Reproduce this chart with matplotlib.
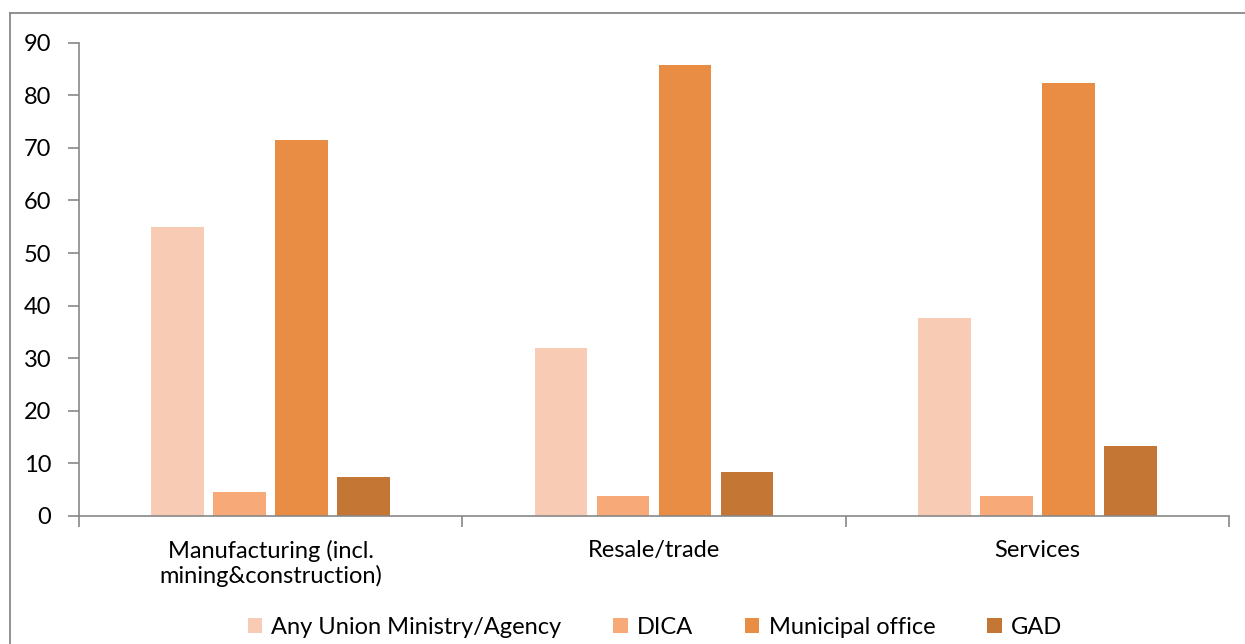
import matplotlib
matplotlib.use("Agg")
import matplotlib.pyplot as plt
import numpy as np
from matplotlib.lines import Line2D
from matplotlib.patches import Patch

categories = ["Manufacturing (incl.\nmining&construction)", "Resale/trade", "Services"]
series_names = ["Any Union Ministry/Agency", "DICA", "Municipal office", "GAD"]
union = [55.0, 31.9, 37.6]
dica = [4.6, 3.8, 3.8]
municipal = [71.5, 85.7, 82.3]
gad = [7.4, 8.3, 13.3]
colors = ["#F8CBB4", "#F7AA78", "#E88D43", "#C47635"]
yticks = [0, 10, 20, 30, 40, 50, 60, 70, 80, 90]

plt.rcParams['font.family'] = ['Lato', 'DejaVu Sans']
FS = 17

W, H = 1245, 644
fig = plt.figure(figsize=(W / 100, H / 100), dpi=100)
ax = fig.add_axes([79 / W, 1 - 516 / H, (1229 - 79) / W, (516 - 42.7) / H])

x = np.arange(len(categories))
step = 0.1618
width = 0.138
data = [union, dica, municipal, gad]
for i, (vals, c) in enumerate(zip(data, colors)):
    ax.bar(x + (i - 1.5) * step, vals, width=width, color=c, label=series_names[i])

ax.set_xlim(-0.5, len(categories) - 0.5)
ax.set_ylim(0, 90)
ax.set_yticks(yticks)
ax.set_yticklabels([str(v) for v in yticks], fontsize=FS)
ax.set_xticks(x)
ax.set_xticklabels(categories, fontsize=FS, linespacing=1.15)
ax.set_xticks(np.arange(len(categories) + 1) - 0.5, minor=True)
ax.tick_params(axis='x', which='major', length=0, pad=17)
ax.tick_params(axis='x', which='minor', length=8, width=1.2, color='#888888', direction='out')
ax.tick_params(axis='y', length=8, width=1.2, color='#888888', direction='out', pad=12)
for s in ['top', 'right']:
    ax.spines[s].set_visible(False)
for s in ['left', 'bottom']:
    ax.spines[s].set_color('#888888')
    ax.spines[s].set_linewidth(1.2)

handles = [Patch(facecolor=c, edgecolor='none') for c in colors]
fig.legend(handles, series_names, loc='center', bbox_to_anchor=(655 / W, 1 - 627 / H),
           ncol=4, frameon=False, fontsize=FS, handlelength=0.6, handleheight=0.6,
           handletextpad=0.4, columnspacing=2.2, borderpad=0)

# outer chart frame
fig.add_artist(Line2D([10 / W, 1.0], [1 - 13 / H, 1 - 13 / H], color='#888888', lw=1.3))
fig.add_artist(Line2D([10 / W, 10 / W], [1 - 13 / H, 0.0], color='#888888', lw=1.3))

# title, cut at the top edge (only descenders visible, as in the reference)
fig.text(10 / W, 1 + 4 / H, "Figure 8: Registering agency (%/type) of enterprises, by business category",
         color='#2F5C96', fontsize=16, ha='left', va='baseline', style='italic')

fig.savefig("out.png", dpi=100)
